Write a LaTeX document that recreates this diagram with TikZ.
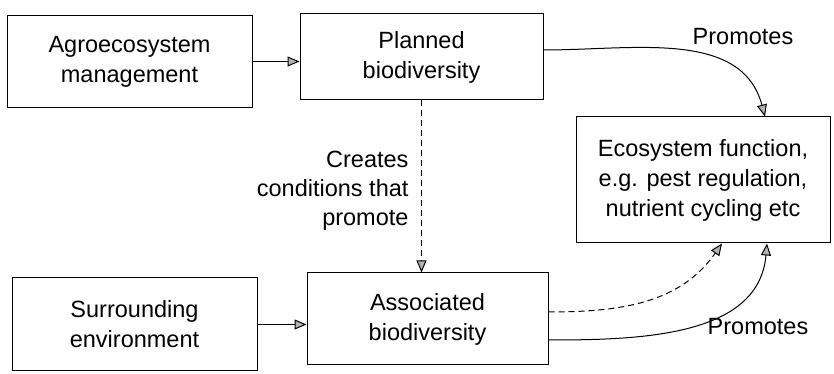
\documentclass[tikz,border=0pt]{standalone}
\usepackage{fontspec}
\setmainfont{Liberation Sans}
\usepackage{tikz}
\usetikzlibrary{calc}
\usetikzlibrary{shapes.geometric, positioning, arrows.meta}
\tikzstyle{arrow} = [line width=1pt,-{Triangle[length=12pt,width=10pt,fill=gray!60]}]
\tikzstyle{dasharrow} = [arrow, dashed, dash pattern=on 6pt off 4pt]
\tikzstyle{bdbox} = [rectangle, draw=black, line width=1pt, align=center, text centered, font=\fontsize{23.5}{30}\selectfont]
\tikzstyle{bdlabel} = [align=center, font=\fontsize{23.5}{29}\selectfont]

\begin{document}
\begin{tikzpicture}[x=1pt,y=1pt]
    \useasboundingbox (0,0) rectangle (834,374);
   	\node[bdbox,minimum width=245pt,minimum height=92pt](agro) at (129.5,312.5){Agroecosystem\\management};
   	\node[bdbox,minimum width=243pt,minimum height=86pt](planned) at (421.5,317){Planned\\biodiversity};
   	\node[bdbox,minimum width=254pt,minimum height=126pt](eco) at (703,194){Ecosystem function,\\e.g. pest regulation,\\nutrient cycling etc};
   	\node[bdbox,minimum width=245pt,minimum height=93pt](surr) at (134.5,49.5){Surrounding\\environment};
   	\node[bdbox,minimum width=241pt,minimum height=92pt](assoc) at (427.5,55){Associated\\biodiversity};
    \node[bdlabel,align=right,anchor=east](creates) at (412,183){Creates\\conditions that\\promote};
    \node[bdlabel](promtop) at (743,337){Promotes};
    \node[bdlabel](prombot) at (758,47){Promotes};
    \draw[arrow] (agro.east) -- (agro.east -| planned.west);
    \draw[arrow] (surr.east) -- (surr.east -| assoc.west);
    \draw[dasharrow] (planned.south) -- (planned.south |- assoc.north);
  	\draw[arrow] ([yshift=7pt]planned.east) to[out=0,in=105] ([xshift=62pt]eco.north);
  	\draw[dasharrow] ([yshift=7pt]assoc.east) to[out=0,in=235] ([xshift=19pt]eco.south);
  	\draw[arrow] ([yshift=-21pt]assoc.east) to[out=0,in=265] ([xshift=64pt]eco.south);
\end{tikzpicture}
\end{document}
